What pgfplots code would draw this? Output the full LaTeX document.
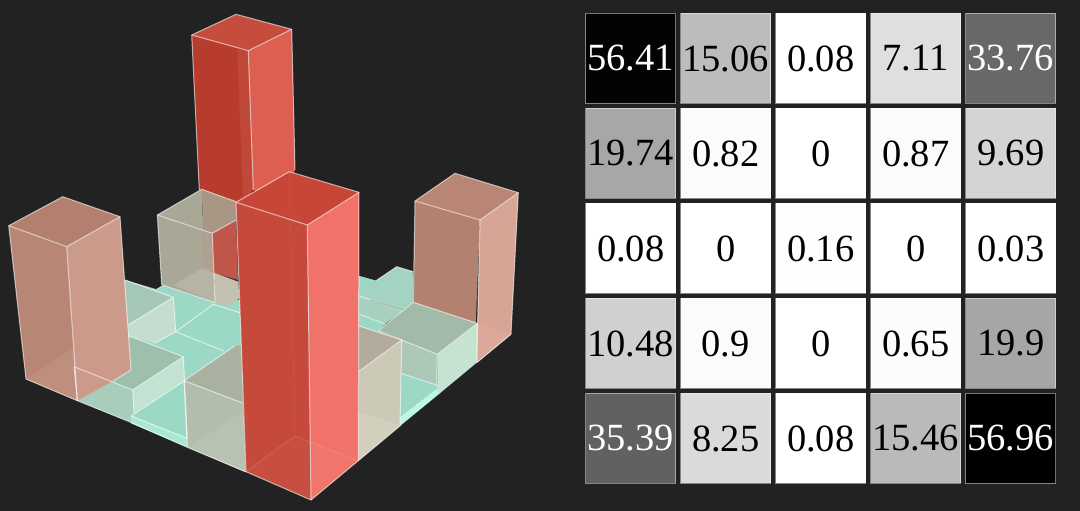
\documentclass[border=0pt]{standalone}
\usepackage{pgfplots}
\pgfplotsset{compat=1.18}
\usepackage{pgfplotstable}
\usepackage{fontspec}
\setmainfont{Liberation Serif}
\definecolor{bgc}{HTML}{222222}
\definecolor{Etop}{HTML}{C64D3D}\definecolor{Eleft}{HTML}{B83C2E}\definecolor{Eband}{HTML}{C04838}\definecolor{Eright}{HTML}{DC5F52}
\definecolor{Ftop}{HTML}{C84638}\definecolor{Fleft}{HTML}{C64A3B}\definecolor{Fright}{HTML}{F07268}
\definecolor{Ptop}{HTML}{B98575}\definecolor{Pleft}{HTML}{B28170}\definecolor{Pright}{HTML}{D7A596}\definecolor{Plow}{HTML}{DCA899}
\definecolor{Atop}{HTML}{B38070}\definecolor{Aleft}{HTML}{B88674}\definecolor{Alow}{HTML}{BE8F7C}\definecolor{Aright}{HTML}{CC9A8A}
\definecolor{Dtop}{HTML}{A9A897}\definecolor{Dtopw}{HTML}{A89785}\definecolor{Dwarm}{HTML}{B0A090}\definecolor{Dbot}{HTML}{B6B4A3}\definecolor{Dred}{HTML}{C0564A}\definecolor{Dlow}{HTML}{C4C1B1}
\definecolor{teal}{HTML}{9BD8C5}\definecolor{tealb}{HTML}{A9E8D5}\definecolor{tealc}{HTML}{BDF6E5}
\definecolor{Ctop}{HTML}{A5C8B6}\definecolor{Cright}{HTML}{C5DDCF}
\definecolor{Btop}{HTML}{9FBFAD}\definecolor{Bleft}{HTML}{A9CDBB}\definecolor{Bright}{HTML}{C2E3D2}
\definecolor{Ltop}{HTML}{A9B2A0}\definecolor{Lleft}{HTML}{B2BDAB}\definecolor{Llow}{HTML}{B7C2B1}
\definecolor{Jtop}{HTML}{B3AB9B}\definecolor{Jright}{HTML}{CDC9B7}\definecolor{Jlow}{HTML}{D3CFBD}
\definecolor{Htop}{HTML}{A4BAA9}\definecolor{Hleft}{HTML}{ADC8B6}\definecolor{Hright}{HTML}{C6E3D2}
\definecolor{Ktop}{HTML}{A5D3C1}\definecolor{Kmid}{HTML}{A7D0BE}
\newcommand\fc[2]{\addplot[fill=#1,draw=none,no marks] coordinates {#2} -- cycle;}
\newcommand\ed[1]{\addplot[draw=white,opacity=.6,line width=1pt,no marks,line join=round] coordinates {#1};}
\pgfplotstableread{
x y label
630.7 58.5 56.41
1010.7 58.5 33.76
630.7 438.5 35.39
1010.7 438.5 56.96
}\whitelabels
\pgfplotstableread{
x y label
725.7 58.5 15.06
820.7 58.5 0.08
915.7 58.5 7.11
630.7 153.5 19.74
725.7 153.5 0.82
820.7 153.5 0
915.7 153.5 0.87
1010.7 153.5 9.69
630.7 248.5 0.08
725.7 248.5 0
820.7 248.5 0.16
915.7 248.5 0
1010.7 248.5 0.03
630.7 343.5 10.48
725.7 343.5 0.9
820.7 343.5 0
915.7 343.5 0.65
1010.7 343.5 19.9
725.7 438.5 8.25
820.7 438.5 0.08
915.7 438.5 15.46
}\blacklabels
\newcommand\sq[3]{\addplot[fill=black!#1,draw=white,draw opacity=.45,line width=.8pt,no marks] coordinates {(#2,#3)(#2+90,#3)(#2+90,#3+90)(#2,#3+90)} -- cycle;}
\begin{document}
\begin{tikzpicture}
\begin{axis}[
  at={(0,0)},anchor=south west,
  scale only axis,width=1080pt,height=511pt,
  xmin=0,xmax=1080,ymin=0,ymax=511,y dir=reverse,
  hide axis,clip=true]
% background
\fc{bgc}{(0,0)(1080,0)(1080,511)(0,511)}
% E: tall back bar
\fc{Eleft}{(191.7,35)(248.3,50.7)(253.3,190)(236,215)(199.3,190)}
\fc{Eband}{(237.3,50)(248.3,50.7)(253,190)(243.3,200)}
\fc{Eright}{(248.3,50.7)(291.7,29.3)(295,170)(280,200)(253.3,190)}
\fc{Etop}{(191.7,35)(236,14.3)(291.7,29.3)(248.3,50.7)}
\ed{(191.7,35)(236,14.3)(291.7,29.3)(248.3,50.7)(191.7,35)(199.3,190)}
\ed{(248.3,50.7)(253.3,190)}
\ed{(291.7,29.3)(295,170)}
% floor
\fc{teal}{(125,280)(156.7,289.3)(163.3,285.3)(240,300)(359,276)(376,280.7)(359,330)(240,400)(187,440)(131,416)(74,366.7)}
% D: beige back-left bar
\fc{Dtop}{(157.3,215)(161.7,285)(215,302.7)(212.3,233.3)}
\fc{Dwarm}{(201.3,229.7)(212.3,233.3)(213.7,272.7)(203.3,268.3)}
\fc{Dbot}{(173.3,285)(202.3,268.3)(213.3,272.7)(215,302.7)}
\fc{Dred}{(212.3,233.3)(236,220)(238,280)(213.3,272.7)}
\fc{Dlow}{(214,272.7)(238.3,281.7)(239.3,298.3)(226.7,306.7)(215,302.7)}
\fc{Dtop}{(157.3,215)(201.7,189.3)(203.3,229.7)(212.3,233.3)}
\fc{Dtopw}{(201.7,189.3)(236,201.7)(236,220)(212.3,233.3)(203.3,229.7)}
\ed{(161.7,285)(157.3,215)(201.7,189.3)(236,201.7)}
\ed{(157.3,215)(212.3,233.3)(236,220)}
\ed{(212.3,233.3)(215,302.7)}
% G: pink right bar
\fc{Pleft}{(415,201)(480,220)(475.7,325)(413.3,303.3)}
\fc{Pright}{(480,220)(518.3,192.7)(511,334.3)(476.7,362.7)}
\fc{Plow}{(476,323.3)(511,334.3)(476.7,362.7)}
\fc{Ptop}{(415,201)(455,173.3)(518.3,192.7)(480,220)}
\ed{(413.3,303.3)(415,201)(455,173.3)(518.3,192.7)(480,220)(415,201)}
\ed{(480,220)(476.7,362.7)}
\ed{(518.3,192.7)(511,334.3)(476.7,362.7)}
% back right low cells
\fc{teal}{(359,276)(376,280.7)(359,293.3)}
\fc{Ktop}{(359,293.3)(376,280.7)(396.7,266.7)(413.3,271.7)(413.3,302.3)(403.3,310)(359,296)}
\fc{Kmid}{(359,296.7)(403.3,310.7)(385,324)(359,314)}
\fc{teal}{(359,314)(385,324)(378.3,330.7)(402,342)(359,332)}
\ed{(359,296)(403.3,310.7)}
\ed{(359,314)(385,324)}
\ed{(376,280.7)(396.7,266.7)(413.3,271.7)}
% H and I
\fc{teal}{(399,370)(436.7,385)(439,386.7)(400,416.7)}
\fc{tealc}{(439,386.7)(439,394)(400,426)(400,416.7)}
\fc{Hleft}{(399,338)(437.3,353)(437.3,385.5)(399,372.7)}
\fc{Hright}{(437.3,354.3)(477.3,323.3)(476.7,362.7)(439,394)(437.3,390)}
\fc{Htop}{(378.3,330.7)(413.3,302.3)(477.3,323.3)(437.3,354.3)}
\ed{(378.3,330.7)(413.3,302.3)(477.3,323.3)(437.3,354.3)(378.3,330.7)}
\ed{(437.3,354.3)(436.7,385)}
\ed{(477.3,323.3)(476.7,362.7)}
\ed{(400.7,373.3)(436.7,385)(439,386.7)}
% J
\fc{Jtop}{(358.3,325.7)(401.7,340)(358.3,371.7)}
\fc{Jright}{(358.3,371.7)(401.7,340)(400,426)(358.3,460.7)}
\fc{Jlow}{(358.3,411.7)(400,425)(358.3,460.7)}
\ed{(358.3,325.7)(401.7,340)(358.3,371.7)}
\ed{(401.7,340)(400,426)(358.3,460.7)}
% left-centre cells
\fc{Ctop}{(125,280)(173.3,297.3)(128.3,325)}
\fc{Cright}{(128.3,325)(173.3,297.3)(175.7,331.7)(154.3,343.3)(128.3,336)}
\ed{(128.3,325)(173.3,297.3)(175.7,331.7)(154.3,343.3)}
\ed{(125,280)(173.3,297.3)}
\ed{(156.7,289.3)(163.3,285.3)(215,302.7)}
\ed{(175.7,331.7)(213.3,304.3)(240,312.7)}
\ed{(175.7,331.7)(224,351)}
% B
\fc{Bleft}{(74,366.7)(132.7,390)(134,413.3)(130.7,422.3)(77.3,400.7)}
\fc{Bright}{(132.7,390)(183.3,356.7)(185,381.7)(134,413.3)}
\fc{Btop}{(74,366.7)(128.3,335.7)(183.3,356.7)(132.7,390)}
% T5
\fc{teal}{(131,416)(183.3,381.7)(187.3,438.3)}
\fc{tealb}{(131,416)(187.3,438.3)(187.3,447.3)(131,423.3)}
% L
\fc{Ltop}{(184,380.7)(235,345.7)(243,345)(243,403.3)}
\fc{Lleft}{(184,380.7)(243.3,403.3)(245.7,472.3)(187.3,447.3)}
\fc{Llow}{(188,447.3)(243.3,411.7)(245.7,471.7)}
\ed{(235,345.7)(184,380.7)(243.3,403.3)}
\ed{(184,380.7)(187.3,447.3)(245.7,471.7)}
% A: pink left bar
\fc{Aleft}{(8.7,225.7)(66.7,246.7)(77.3,400.7)(26,379)}
\fc{Alow}{(26,379)(74,347.7)(77.3,400.7)}
\fc{Aright}{(66.7,246.7)(120,216.7)(131,370)(113,381)(77.3,400.7)}
\fc{Atop}{(8.7,225.7)(62.7,196.7)(120,216.7)(66.7,246.7)}
\ed{(26,379)(8.7,225.7)(62.7,196.7)(120,216.7)(66.7,246.7)(8.7,225.7)}
\ed{(66.7,246.7)(77.3,400.7)(26,379)}
\ed{(120,216.7)(131,370)(113,381)}
% B edges on top
\ed{(74,366.7)(132.7,390)(183.3,356.7)(128.3,335.7)}
\ed{(74,366.7)(77.3,400.7)}
\ed{(132.7,390)(134,413.3)}
\ed{(183.3,356.7)(187.3,438.3)}
\ed{(131,416)(183.3,381.7)}
\ed{(131,416)(187.3,438.3)}
\ed{(77.3,400.7)(130.7,422.3)(187.3,447.3)}
% F: tall front bar
\fc{Fleft}{(236,202.3)(307.3,225)(311,500)(246,471.7)}
\fc{Fright}{(307.3,225)(359,192.3)(358.3,460.7)(311,500)}
\fc{Ftop}{(236,202.3)(289.3,171.7)(359,192.3)(307.3,225)}
\addplot[fill=white,fill opacity=.03,draw=none,no marks] coordinates {(246,471.7)(295,436)(358.3,460.7)(311,500)} -- cycle;
\addplot[draw=white,opacity=.08,line width=1.6pt,no marks] coordinates {(246,471.7)(295,436)(358.3,460.7)};
\addplot[draw=white,opacity=.05,line width=.8pt,no marks] coordinates {(289.3,171.7)(295,436)};
\ed{(246,471.7)(236,202.3)(289.3,171.7)(359,192.3)(307.3,225)(236,202.3)}
\ed{(307.3,225)(311,500)(246,471.7)}
\ed{(359,192.3)(358.3,460.7)(311,500)}
% heatmap
\sq{99}{585.7}{13}\sq{26.4}{680.7}{13}\sq{0.14}{775.7}{13}\sq{12.5}{870.7}{13}\sq{59.3}{965.7}{13}
\sq{34.7}{585.7}{108}\sq{1.4}{680.7}{108}\sq{0}{775.7}{108}\sq{1.5}{870.7}{108}\sq{17}{965.7}{108}
\sq{0.14}{585.7}{203}\sq{0}{680.7}{203}\sq{0.3}{775.7}{203}\sq{0}{870.7}{203}\sq{0.05}{965.7}{203}
\sq{18.4}{585.7}{298}\sq{1.6}{680.7}{298}\sq{0}{775.7}{298}\sq{1.1}{870.7}{298}\sq{34.9}{965.7}{298}
\sq{62.1}{585.7}{393}\sq{14.5}{680.7}{393}\sq{0.14}{775.7}{393}\sq{27.1}{870.7}{393}\sq{100}{965.7}{393}
\addplot[draw=none,no marks,nodes near coords,point meta=explicit symbolic,
  nodes near coords style={anchor=center,inner sep=0pt,text=white,font=\fontsize{38.5}{38.5}\selectfont}]
  table[x=x,y=y,meta=label]{\whitelabels};
\addplot[draw=none,no marks,nodes near coords,point meta=explicit symbolic,
  nodes near coords style={anchor=center,inner sep=0pt,text=black,font=\fontsize{38.5}{38.5}\selectfont}]
  table[x=x,y=y,meta=label]{\blacklabels};
\end{axis}
\end{tikzpicture}
\end{document}
